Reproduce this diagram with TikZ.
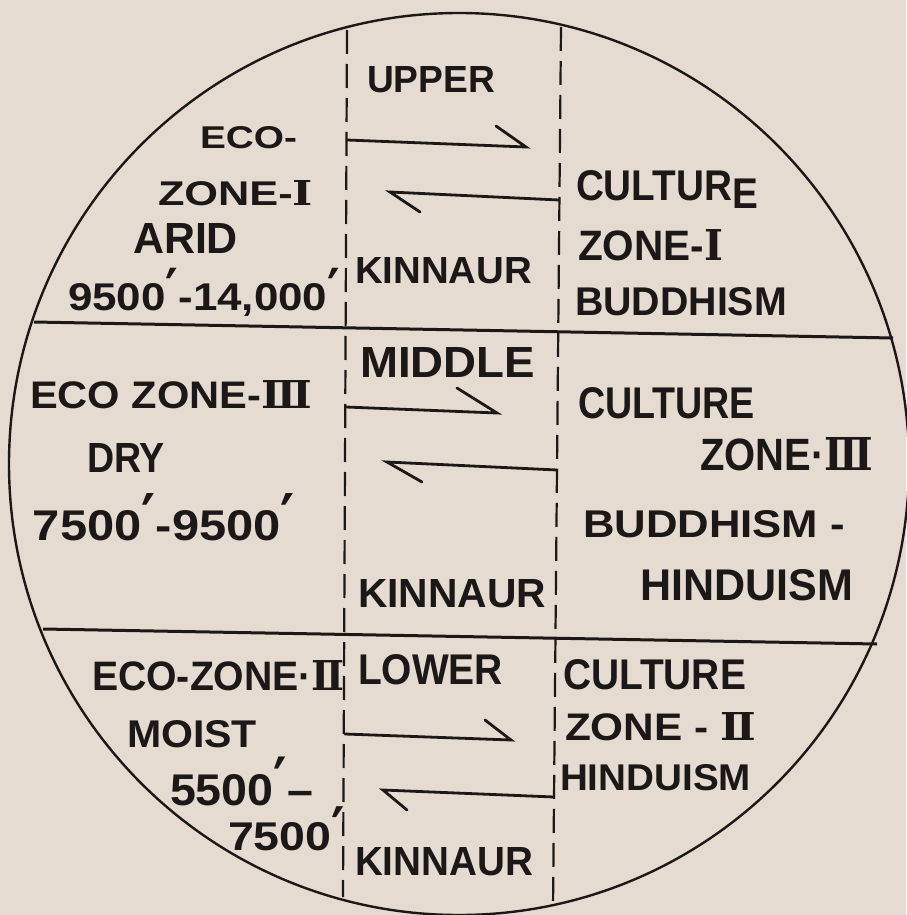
\documentclass[tikz,border=0pt]{standalone}
\usepackage{fontspec}
\setmainfont{Liberation Sans}
\newfontfamily\rnfont{DejaVu Serif}
\newfontfamily\prfont{DejaVu Sans}
\usepackage{graphicx}
\definecolor{paper}{RGB}{229,219,209}
\definecolor{ink}{RGB}{28,24,24}
\newcommand\fitt[3]{\resizebox{#1pt}{#2pt}{\fontsize{39}{44}\selectfont\bfseries #3}}
\newcommand\RN[1]{{\rnfont\bfseries #1}}
\newcommand\PR{\smash{\scalebox{1.1}[1.5]{\prfont\bfseries ′}}}
\begin{document}
\begin{tikzpicture}[x=1pt,y=-1pt,
  lbl/.style={anchor=base west, inner sep=0pt, outer sep=0pt, text=ink},
  rim/.style={draw=ink, line width=2.4pt},
  band/.style={draw=ink, line width=3pt},
  divider/.style={draw=ink, line width=2.2pt, dash pattern=on 24pt off 10pt},
  arr/.style={draw=ink, line width=2.8pt, line cap=round, line join=miter}]
\useasboundingbox (0,0) rectangle (906,915);
\fill[paper] (0,0) rectangle (906,915);

% outline
\draw[rim] (459,464) ellipse [x radius=450, y radius=451];

% horizontal band lines
\coordinate (h1w) at (34,322);
\coordinate (h1e) at (893,338);
\coordinate (h2w) at (43,629);
\coordinate (h2e) at (877,644);
\draw[band] (h1w) -- (h1e);
\draw[band] (h2w) -- (h2e);

% dashed dividers
\coordinate (dlt) at (347,30);
\coordinate (dlb) at (343,897);
\coordinate (drt) at (561,27);
\coordinate (drb) at (553,909);
\draw[divider] (dlt) -- (dlb);
\draw[divider] (drt) -- (drb);

% top band labels
\node[lbl] (upper) at (367,93) {\fitt{128}{26}{UPPER}};
\node[lbl] (eco1a) at (200,148) {\fitt{97}{22}{ECO-}};
\node[lbl] (eco1b) at (158,205) {\fitt{155}{25}{ZONE-\RN{Ⅰ}}};
\node[lbl] (arid) at (133,253) {\fitt{105}{30}{ARID}};
\node[lbl] (alt1) at (68,310) {\fitt{272}{27}{9500\PR-14,000\PR}};
\node[lbl] (kin1) at (355,283) {\fitt{177}{26}{KINNAUR}};
\node[lbl] (cul1) at (576,200) {\fitt{182}{30}{CULTUR\raisebox{-0.19em}{E}}};
\node[lbl] (cz1) at (578,260) {\fitt{145}{31}{ZONE-\RN{Ⅰ}}};
\node[lbl] (bud1) at (575,315) {\fitt{212}{28}{BUDDHISM}};

% middle band labels
\node[lbl] (middle) at (360,377) {\fitt{175}{30}{MIDDLE}};
\node[lbl] (eco3) at (30,408) {\fitt{282}{28}{ECO ZONE-\RN{Ⅲ}}};
\node[lbl] (dry) at (87,472) {\fitt{78}{29}{DRY}};
\node[lbl] (alt3) at (33,540) {\fitt{262}{30}{7500\PR-9500\PR}};
\node[lbl] (kin3) at (358,607) {\fitt{188}{28}{KINNAUR}};
\node[lbl] (cul3) at (578,418) {\fitt{177}{31}{CULTURE}};
\node[lbl] (cz3) at (700,470) {\fitt{173}{33}{ZONE·\RN{Ⅲ}}};
\node[lbl] (bud3) at (583,537) {\fitt{262}{27}{BUDDHISM -}};
\node[lbl] (hin3) at (640,600) {\fitt{213}{31}{HINDUISM}};

% bottom band labels
\node[lbl] (eco2) at (92,690) {\fitt{253}{30}{ECO-ZONE·\RN{Ⅱ}}};
\node[lbl] (lower) at (358,684) {\fitt{145}{30}{LOWER}};
\node[lbl] (moist) at (127,747) {\fitt{130}{27}{MOIST}};
\node[lbl] (alt2a) at (170,805) {\fitt{143}{31}{5500\PR–}};
\node[lbl] (alt2b) at (228,850) {\fitt{117}{28}{7500\PR}};
\node[lbl] (kin2) at (355,875) {\fitt{178}{28}{KINNAUR}};
\node[lbl] (cul2) at (563,689) {\fitt{183}{30}{CULTURE}};
\node[lbl] (cz2) at (565,740) {\fitt{191}{28}{ZONE - \RN{Ⅱ}}};
\node[lbl] (hin2) at (560,790) {\fitt{191}{26}{HINDUISM}};

% arrows (half heads)
\coordinate (a1s) at (347,140); \coordinate (a1t) at (526,147); \coordinate (a1b) at (496,126);
\coordinate (a2s) at (559,200); \coordinate (a2t) at (390,192); \coordinate (a2b) at (420,212);
\coordinate (a3s) at (346,407); \coordinate (a3t) at (497,413); \coordinate (a3b) at (457,388);
\coordinate (a4s) at (557,470); \coordinate (a4t) at (387,462); \coordinate (a4b) at (422,482);
\coordinate (a5s) at (345,734); \coordinate (a5t) at (511,740); \coordinate (a5b) at (485,720);
\coordinate (a6s) at (554,797); \coordinate (a6t) at (383,790); \coordinate (a6b) at (407,810);
\draw[arr] (a1s) -- (a1t) -- (a1b);
\draw[arr] (a2s) -- (a2t) -- (a2b);
\draw[arr] (a3s) -- (a3t) -- (a3b);
\draw[arr] (a4s) -- (a4t) -- (a4b);
\draw[arr] (a5s) -- (a5t) -- (a5b);
\draw[arr] (a6s) -- (a6t) -- (a6b);
\end{tikzpicture}
\end{document}
